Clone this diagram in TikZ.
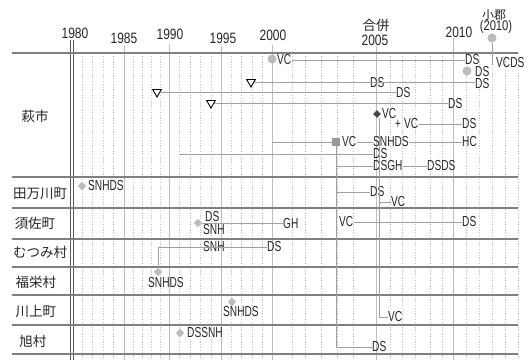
\documentclass[tikz,border=0pt]{standalone}
\usepackage{fontspec}
\setmainfont{Liberation Sans}[FakeStretch=0.7]
\newfontfamily\yearfont{Liberation Sans}[FakeStretch=0.8]
\newfontfamily\jpfont{Noto Sans CJK JP}
\usetikzlibrary{shapes.geometric}
\definecolor{framec}{HTML}{808080}
\definecolor{dblc}{HTML}{5A5A5A}
\definecolor{gridc}{HTML}{CACACA}
\definecolor{yearc}{HTML}{BEBEBE}
\definecolor{connc}{HTML}{A0A0A0}
\definecolor{markc}{HTML}{BBBBBB}
\definecolor{sqc}{HTML}{999999}
\definecolor{txtc}{HTML}{262626}
\begin{document}
\begin{tikzpicture}[x=1pt,y=-1pt,
  lbl/.style={font=\fontsize{14.5}{14.5}\selectfont, text=txtc, inner sep=0pt, anchor=west},
  yr/.style={font=\yearfont\fontsize{15}{15}\selectfont, text=txtc, inner sep=0pt},
  jp/.style={font=\jpfont\fontsize{13.5}{14}\selectfont, text=txtc, inner sep=0pt},
  conn/.style={draw=connc, line width=0.9pt},
  sepline/.style={draw=framec, line width=1.3pt},
  dblline/.style={draw=dblc, line width=0.9pt},
  gridline/.style={draw=gridc, line width=0.6pt, dash pattern=on 1.2pt off 1.6pt},
  yearline/.style={draw=yearc, line width=0.8pt},
  gdiam/.style={diamond, fill=markc, inner sep=0pt, minimum size=8.5pt},
  gcirc/.style={circle, fill=markc, inner sep=0pt, minimum size=9pt},
  gsq/.style={rectangle, fill=sqc, inner sep=0pt, minimum size=7.5pt},
  bdiam/.style={diamond, fill=black!72, inner sep=0pt, minimum size=8pt},
  trimark/.style={regular polygon, regular polygon sides=3, shape border rotate=180,
    draw=black, line width=0.9pt, fill=white, inner sep=0pt, minimum size=10pt}]
\useasboundingbox (0,0) rectangle (531,360);
\fill[white] (0,0) rectangle (531,360);

% grid
\foreach \x in {82,92,103,113,133,142,151,160,179,190,200,211,231,241,252,262,292,305,321,337,353,390,402,415,430,442,466,479,492,505,518}
  \draw[gridline] (\x,53) -- (\x,360);
\foreach \x/\t in {124/46,169/44,221/46,272/45,376/46,453/38}
  \draw[yearline] (\x,\t) -- (\x,360);

% frame
\draw[dblline] (70,40) -- (70,360);
\draw[dblline] (73,40) -- (73,360);
\foreach \y in {53,177,208,239,267,295,325,354}
  \draw[sepline] (12,\y) -- (518,\y);

% header
\node[yr] (y1980) at (75,33) {1980};
\node[yr] (y1985) at (124,38) {1985};
\node[yr] (y1990) at (170,34) {1990};
\node[yr] (y1995) at (223,38) {1995};
\node[yr] (y2000) at (273,35) {2000};
\node[jp] (gappei) at (376,25) {合併};
\node[yr] (y2005) at (375,40) {2005};
\node[yr] (y2010) at (459,32) {2010};
\node[jp, font=\jpfont\fontsize{12}{12}\selectfont] (ogori) at (494,15) {小郡};
\node[yr, font=\yearfont\fontsize{14}{14}\selectfont] (y2010b) at (496,27) {(2010)};

% row labels
\node[jp] (hagi) at (35,116) {萩市};
\node[jp] (tamagawa) at (40,194) {田万川町};
\node[jp] (susa) at (35,223) {須佐町};
\node[jp] (mutsumi) at (40,252) {むつみ村};
\node[jp] (fukue) at (36,282) {福栄村};
\node[jp] (kawakami) at (36,312) {川上町};
\node[jp] (asahi) at (33,341) {旭村};

% Hagi row A
\node[gcirc] (cA) at (272,59) {};
\node[lbl] (lA1) at (277,60) {VC};
\node[lbl] (lA2) at (465,60) {DS};
\draw[conn] (lA1.east) -- (lA2.west);
% Ogori
\node[gcirc] (cK) at (492,38) {};
\coordinate (kEnd) at (492,65);
\draw[conn] (cK) -- (kEnd);
\node[lbl] (lK) at (496,63) {VCDS};
% row B
\node[gcirc] (cB) at (467,71) {};
\node[lbl] (lB) at (475,71.5) {DS};
% row C
\node[trimark] (tC) at (251,82) {};
\node[lbl] (lC1) at (370,83) {DS};
\node[lbl] (lC2) at (475,83.5) {DS};
\draw[conn] (tC.east) -- (tC.east -| lC2.west);
% row D
\node[trimark] (tD) at (157,92) {};
\node[lbl] (lD) at (396,93) {DS};
\draw[conn] (tD.east) -- (tD.east -| lD.west);
% row E
\node[trimark] (tE) at (211,103) {};
\node[lbl] (lE) at (448,104) {DS};
\draw[conn] (tE.east) -- (tE.east -| lE.west);
% row F
\node[bdiam] (dF) at (377,114) {};
\node[lbl] (lF) at (382,114) {VC};
% row G
\node[lbl, font=\fontsize{14}{14}\selectfont] (pG) at (395,124) {+};
\node[lbl] (lG1) at (404,124) {VC};
\node[lbl] (lG2) at (462,124) {DS};
\draw[conn] (lG1.east) -- (lG2.west);
% row H
\coordinate (hStart) at (272,142);
\node[gsq] (sH) at (336,142) {};
\node[lbl] (lH1) at (342,142) {VC};
\node[lbl] (lH2) at (373,142) {SNHDS};
\node[lbl] (lH3) at (462,142) {HC};
\draw[conn] (hStart) -- (sH.west);
\draw[conn] (lH1.east) -- (lH2.west);
\draw[conn] (lH2.east) -- (lH3.west);
% row I
\coordinate (iStart) at (180,154);
\node[lbl] (lI) at (373,154) {DS};
\draw[conn] (iStart) -- (iStart -| lI.west);
% row J
\node[lbl] (lJ1) at (373,166) {DSGH};
\node[lbl] (lJ2) at (427,166) {DSDS};
\draw[conn] (sH.south) |- (lJ1.west);
\draw[conn] (lJ1.east) -- (lJ2.west);

% Tamagawa
\node[gdiam] (dT) at (82,186) {};
\node[lbl] (lT1) at (88,186) {SNHDS};
\node[lbl] (lT2) at (370,192) {DS};
\node[lbl] (lT3) at (391,202) {VC};

% Susa
\node[gdiam] (dS) at (198,223) {};
\node[lbl] (lS1) at (205,216.5) {DS};
\node[lbl] (lS2) at (203,229.5) {SNH};
\node[lbl] (lS3) at (283,224) {GH};
\draw[conn] (dS.east) -- (dS.east -| lS3.west);
\node[lbl] (lS4) at (339,222) {VC};
\node[lbl] (lS5) at (462,222) {DS};
\draw[conn] (lS4.east) -- (lS5.west);

% Mutsumi / Fukue
\node[lbl] (lM1) at (203,247) {SNH};
\node[lbl] (lM2) at (267,247) {DS};
\node[gdiam] (dFk) at (158,272) {};
\node[lbl] (lFk) at (148,283) {SNHDS};
\draw[conn] (dFk.north) |- (lM2.west);

% Kawakami
\node[gdiam] (dKw) at (232,302) {};
\node[lbl] (lKw1) at (223,312) {SNHDS};
\node[lbl] (lKw2) at (388,317) {VC};

% Asahi
\node[gdiam] (dAs) at (180,333) {};
\node[lbl] (lAs1) at (187,333) {DSSNH};
\node[lbl] (lAs2) at (372,347) {DS};

% long verticals
\draw[conn] (sH.south) |- (lT2.west);
\draw[conn] (sH.south) |- (lAs2.west);
\draw[conn] ([xshift=2pt]dF.south) |- (lT3.west);
\draw[conn] ([xshift=2pt]dF.south) |- (lKw2.west);
\end{tikzpicture}
\end{document}
